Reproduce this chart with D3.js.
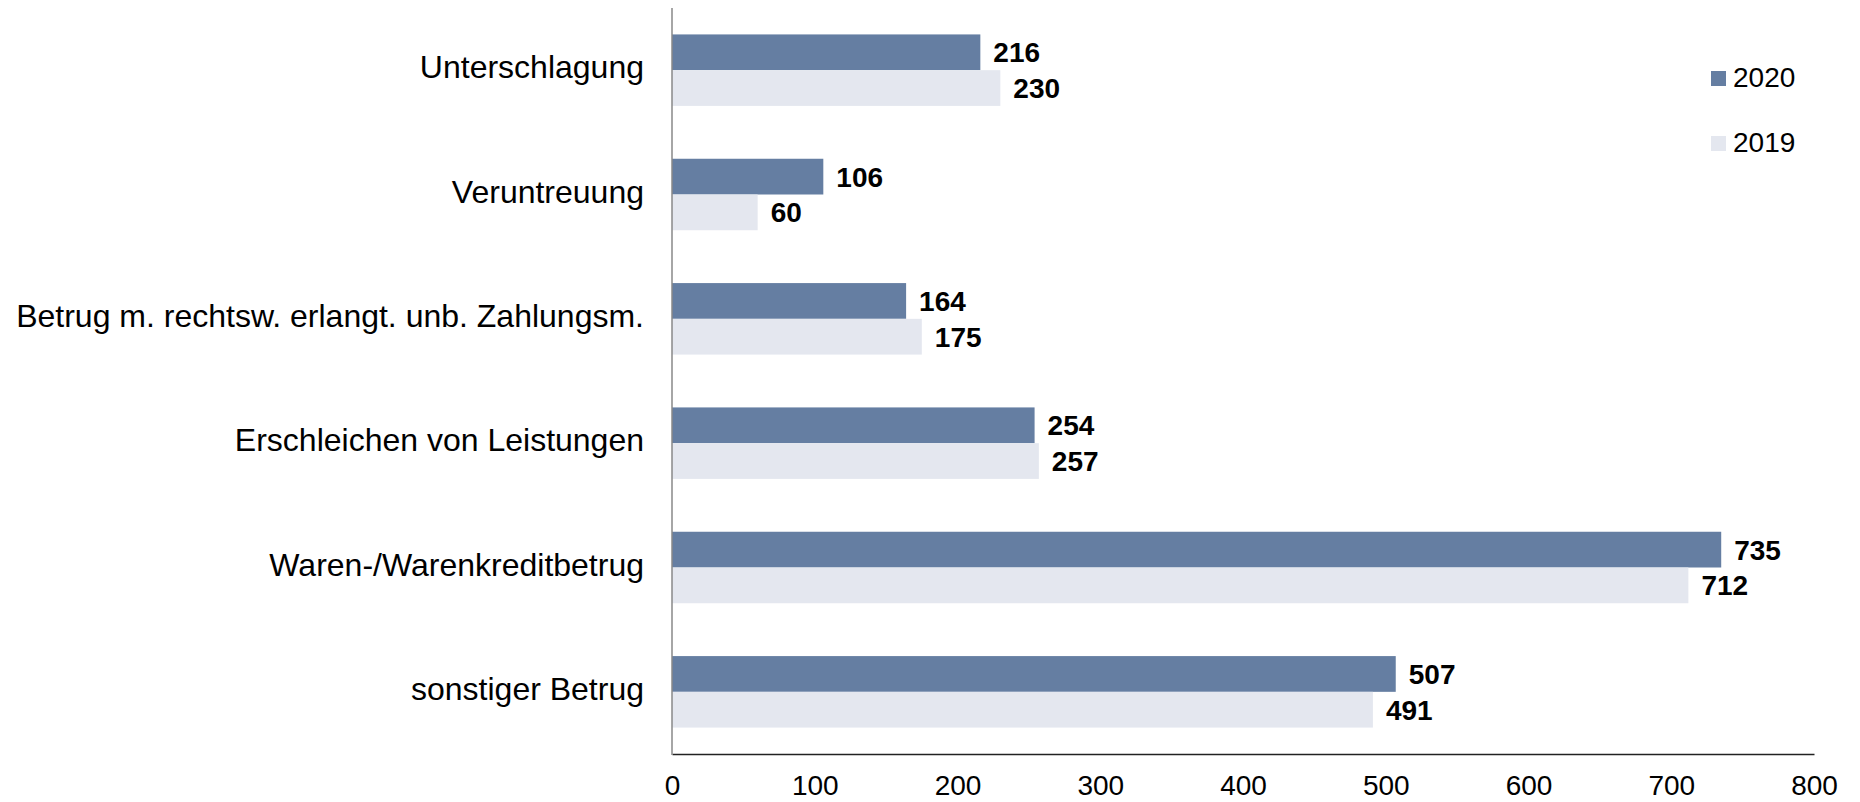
<!DOCTYPE html>
<html><head><meta charset="utf-8">
<script src="https://cdn.jsdelivr.net/npm/d3@7"></script>
<style>html,body{margin:0;padding:0;background:#fff;overflow:hidden}</style>
</head><body>
<svg id="chart" width="1860" height="802"></svg>
<script>
const categories = ["Unterschlagung","Veruntreuung","Betrug m. rechtsw. erlangt. unb. Zahlungsm.","Erschleichen von Leistungen","Waren-/Warenkreditbetrug","sonstiger Betrug"];
const values2020 = [216,106,164,254,735,507];
const values2019 = [230,60,175,257,712,491];
const seriesNames = ["2020","2019"];
const xTicks = [0,100,200,300,400,500,600,700,800];

const colors = {"2020":"#657ea2","2019":"#e4e7ef"};
const svg = d3.select("#chart");
const font = "Liberation Sans, Arial, sans-serif";

const x = d3.scaleLinear().domain([0,800]).range([672,1814]);
const y = d3.scaleBand().domain(categories).range([8,754]).paddingInner(0.425).paddingOuter(0.2125);
const ys = d3.scaleBand().domain(seriesNames).range([0,y.bandwidth()]);

const data = categories.map((c,i)=>({cat:c, vals:[{s:"2020",v:values2020[i]},{s:"2019",v:values2019[i]}]}));

const g = svg.append("g");
const groups = g.selectAll("g.cat").data(data).join("g").attr("transform",d=>`translate(0,${y(d.cat)})`);
groups.selectAll("rect").data(d=>d.vals).join("rect")
  .attr("x",x(0)).attr("y",d=>ys(d.s)).attr("width",d=>x(d.v)-x(0)).attr("height",ys.bandwidth())
  .attr("fill",d=>colors[d.s]);
groups.selectAll("text").data(d=>d.vals).join("text")
  .attr("x",d=>x(d.v)+13).attr("y",d=>ys(d.s)+ys.bandwidth()/2+10)
  .attr("font-family",font).attr("font-weight","bold").attr("font-size",28).attr("fill","#000")
  .text(d=>d.v);

// category labels
g.selectAll("text.cat").data(categories).join("text").attr("class","cat")
  .attr("x",644).attr("y",d=>y(d)+y.bandwidth()/2+8)
  .attr("text-anchor","end").attr("font-family",font).attr("font-size",32).attr("fill","#000")
  .text(d=>d);

// x axis
const xAxis = d3.axisBottom(x).tickValues(xTicks).tickSize(0).tickPadding(0).tickFormat(d3.format("d"));
const ax = svg.append("g").attr("transform","translate(0,754)").call(xAxis);
ax.select(".domain").attr("stroke","#222").attr("stroke-width",1.5);
ax.selectAll("text").attr("font-family",font).attr("font-size",28).attr("fill","#000").attr("dy",null).attr("y",41);

// y axis line
svg.append("line").attr("x1",x(0)).attr("x2",x(0)).attr("y1",8).attr("y2",755).attr("stroke","#888").attr("stroke-width",1.5);

// legend
const leg = svg.append("g").selectAll("g").data(seriesNames).join("g")
  .attr("transform",(d,i)=>`translate(1711,${71+i*65})`);
leg.append("rect").attr("width",15).attr("height",15).attr("fill",d=>colors[d]);
leg.append("text").attr("x",22).attr("y",15.5).attr("font-family",font).attr("font-size",28).attr("fill","#000").text(d=>d);
</script>
</body></html>
